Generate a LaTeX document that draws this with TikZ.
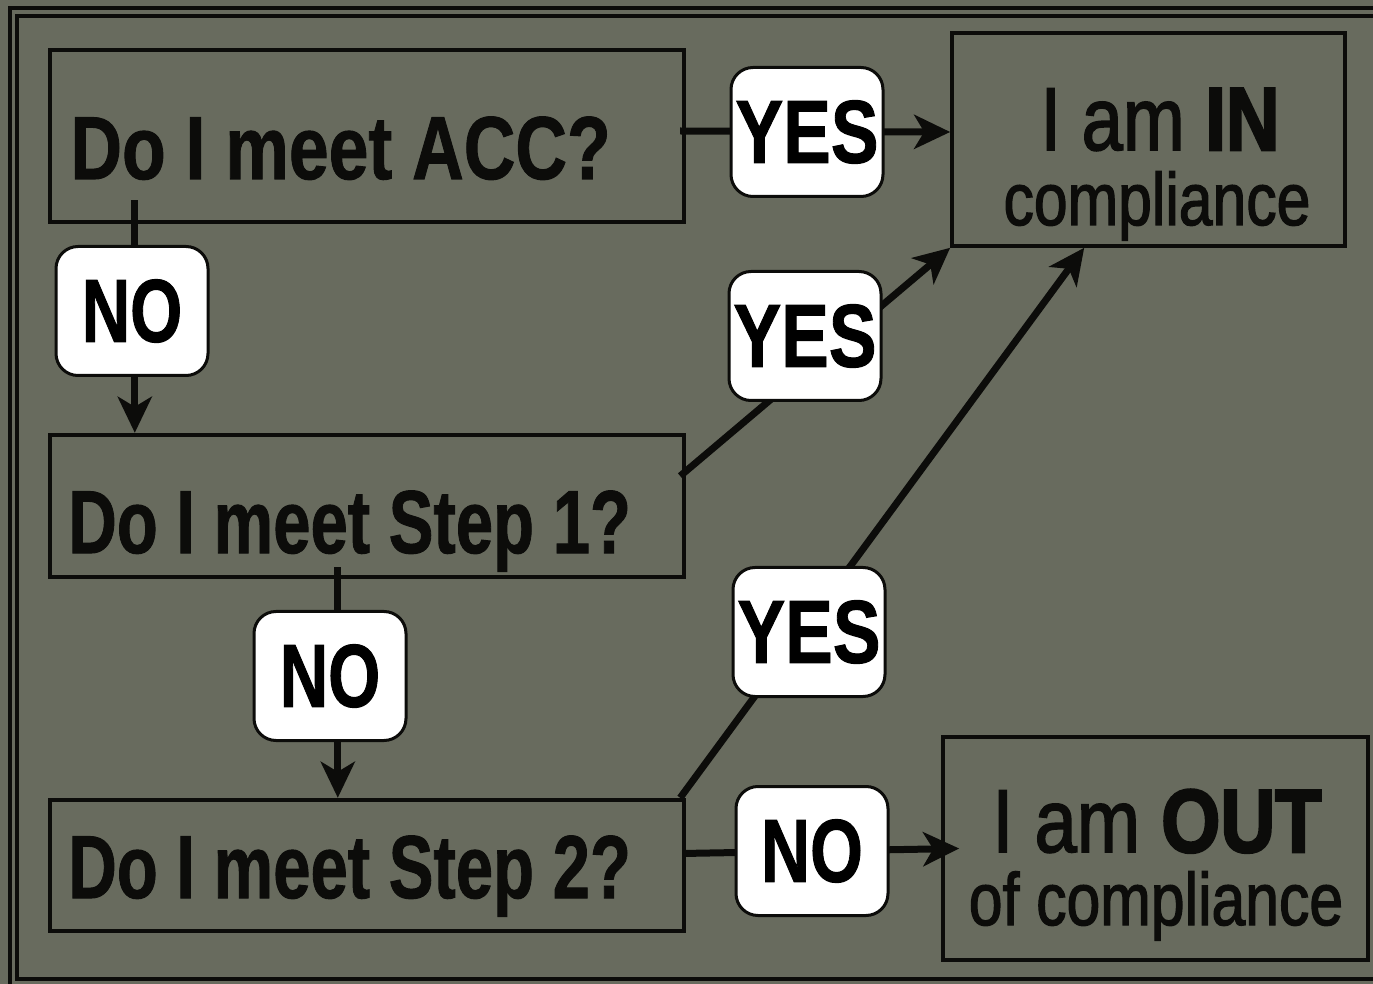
\documentclass[tikz,border=0pt]{standalone}
\usepackage{fontspec}
\usepackage{graphicx}
\setmainfont{Liberation Sans}
\newfontfamily\bfam[FakeBold=1.2]{Liberation Sans Bold}
\newfontfamily\rfam[FakeBold=2]{Liberation Sans}
\newfontfamily\kfam[FakeBold=3]{Liberation Sans Bold}
\usetikzlibrary{arrows.meta,calc}
\definecolor{bg}{RGB}{104,107,94}
\definecolor{ink}{RGB}{12,12,10}
\newcommand{\sq}[2]{\scalebox{#1}[1]{#2}}
\pgfdeclarelayer{bottom}
\pgfdeclarelayer{back}
\pgfsetlayers{bottom,back,main}
\begin{document}
\begin{tikzpicture}[x=0.5pt,y=-0.5pt,
  frame/.style={draw=ink,line width=2pt},
  qbox/.style={draw=ink,line width=2.2pt,inner sep=0pt,minimum width=317pt},
  rbox/.style={draw=ink,line width=1.8pt,inner sep=0pt},
  qtext/.style={anchor=base west,inner sep=0pt,text=ink,font=\bfam\fontsize{44.7}{50}\selectfont},
  rtext/.style={anchor=base,inner sep=0pt,text=ink},
  lbl/.style={draw=ink,fill=white,line width=1.5pt,rounded corners=11pt,inner sep=0pt,
     minimum width=76pt,minimum height=64.5pt,text=black,font=\bfam\fontsize{44.7}{50}\selectfont},
  conn/.style={draw=ink,line width=3.5pt},
  arr/.style={-{Stealth[length=18pt,width=17pt,inset=5pt]}}]
\useasboundingbox (0,0) rectangle (1373,984);
\begin{pgfonlayer}{bottom}
\fill[bg] (0,0) rectangle (1373,984);
\end{pgfonlayer}
\draw[frame] (10,8) rectangle (1400,1010);
\draw[frame] (17,16) rectangle (1390,979);
% question boxes
\node[qbox,minimum height=86pt] (box1) at (367,136) {};
\node[qbox,minimum height=71pt] (box2) at (367,506) {};
\node[qbox,minimum height=65.5pt] (box3) at (367,865.5) {};
\node[qtext] (t1) at (70,179) {\sq{0.80}{Do I meet ACC?}};
\node[qtext] (t2) at (68,553) {\sq{0.75}{Do I meet Step 1?}};
\node[qtext] (t3) at (68,898) {\sq{0.75}{Do I meet Step 2?}};
% result boxes
\node[rbox,minimum width=196.5pt,minimum height=106.5pt] (in) at (1148.5,139.5) {};
\node[rbox,minimum width=212.5pt,minimum height=111.5pt] (out) at (1155.5,848.5) {};
\node[rtext] (in1) at (1160,150) {\sq{0.83}{\fontsize{44.7}{50}\rfam I am \kfam IN}};
\node[rtext] (in2) at (1157,225) {\sq{0.82}{\fontsize{37}{42}\rfam compliance}};
\node[rtext] (out1) at (1157,852) {\sq{0.85}{\fontsize{44.7}{50}\rfam I am \kfam OUT}};
\node[rtext] (out2) at (1156,925) {\sq{0.82}{\fontsize{37}{42}\rfam of compliance}};
% labels
\node[lbl] (yes1) at (807,132) {\raisebox{-3pt}{\sq{0.80}{YES}}};
\node[lbl] (no1) at (132,311) {\raisebox{-2pt}{\sq{0.75}{NO}}};
\node[lbl] (yes2) at (805,336) {\raisebox{-3pt}{\sq{0.80}{YES}}};
\node[lbl] (no2) at (330,676) {\raisebox{-2pt}{\sq{0.75}{NO}}};
\node[lbl] (yes3) at (809,632) {\sq{0.80}{YES}};
\node[lbl] (no3) at (812,851) {\sq{0.76}{NO}};
% connectors
\begin{pgfonlayer}{back}
\draw[conn,arr] ($(box1.east)+(-6,-5)$) -- (in.west |- yes1.center);
\draw[conn,arr] ($(box1.south west)+(87,-24)$) -- ($(box2.north west)+(87,0)$);
\draw[conn,arr] ($(box2.east)+(-6,-30)$) -- (in.south west);
\draw[conn,arr] ($(box2.south west)+(290,-12)$) -- ($(box3.north west)+(290,0)$);
\draw[conn,arr] ($(box3.north east)+(-6,0)$) -- ($(in.south west)+(134,0)$);
\draw[conn,arr] ($(box3.east)+(-4,-12)$) -- ($(out.west)+(18,0)$);
\end{pgfonlayer}
\end{tikzpicture}
\end{document}
